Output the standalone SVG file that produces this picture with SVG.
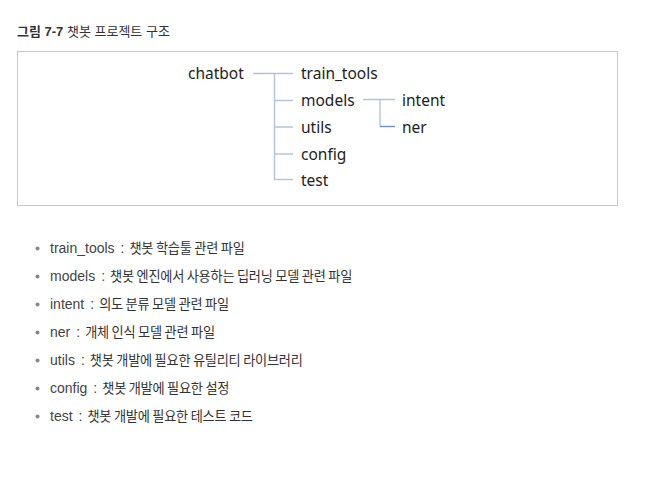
<svg xmlns="http://www.w3.org/2000/svg" width="654" height="477" viewBox="0 0 654 477">
<style>
.title{font-family:"Liberation Sans","Noto Sans CJK KR",sans-serif;font-size:13px;fill:#333}
.node{font-family:"Noto Sans","Noto Sans CJK KR",sans-serif;font-size:15.5px;fill:#222}
.ln{stroke:#b3c3df;stroke-width:1.4;fill:none}
.ln2{stroke:#6f8fc8;stroke-width:1.4;fill:none}
.item{font-family:"Liberation Sans","Noto Sans CJK KR",sans-serif;font-size:14px;fill:#444}
.ko{font-family:"Noto Sans CJK KR",sans-serif;font-size:13.2px;letter-spacing:-0.25px;fill:#333}
.dot{fill:#888}
</style>
<rect width="654" height="477" fill="#fff"/>
<text class="title" x="17" y="36"><tspan font-weight="bold">그림 7-7</tspan> 챗봇 프로젝트 구조</text>
<rect x="17.5" y="51.5" width="600" height="154" fill="none" stroke="#c8c8c8" stroke-width="1"/>
<g id="connectors">
<path class="ln" d="M253 73.5H293M274.5 73.5V179.5H293M274.5 100.5H293M274.5 127H293M274.5 154H293"/>
<path class="ln" d="M363 99.5H395M380 99.5V126.5"/>
<path class="ln2" d="M380 126.5H395"/>
</g>
<g id="chatbot"><text class="node" x="188" y="79">chatbot</text></g>
<g id="train_tools"><text class="node" x="301" y="79">train_tools</text></g>
<g id="models"><text class="node" x="301" y="106">models</text></g>
<g id="utils"><text class="node" x="301" y="133">utils</text></g>
<g id="config"><text class="node" x="301" y="160">config</text></g>
<g id="test"><text class="node" x="301" y="186">test</text></g>
<g id="intent"><text class="node" x="402" y="106">intent</text></g>
<g id="ner"><text class="node" x="402" y="133">ner</text></g>
<g id="list">
<circle class="dot" cx="37.5" cy="248.5" r="2"/><text class="item" x="50" y="253">train_tools<tspan dx="6">:</tspan><tspan class="ko" dx="5">챗봇 학습툴 관련 파일</tspan></text>
<circle class="dot" cx="37.5" cy="276.5" r="2"/><text class="item" x="50" y="281">models<tspan dx="6">:</tspan><tspan class="ko" dx="5">챗봇 엔진에서 사용하는 딥러닝 모델 관련 파일</tspan></text>
<circle class="dot" cx="37.5" cy="304.5" r="2"/><text class="item" x="50" y="309">intent<tspan dx="6">:</tspan><tspan class="ko" dx="5">의도 분류 모델 관련 파일</tspan></text>
<circle class="dot" cx="37.5" cy="332.5" r="2"/><text class="item" x="50" y="337">ner<tspan dx="6">:</tspan><tspan class="ko" dx="5">개체 인식 모델 관련 파일</tspan></text>
<circle class="dot" cx="37.5" cy="360.5" r="2"/><text class="item" x="50" y="365">utils<tspan dx="6">:</tspan><tspan class="ko" dx="5">챗봇 개발에 필요한 유틸리티 라이브러리</tspan></text>
<circle class="dot" cx="37.5" cy="388.5" r="2"/><text class="item" x="50" y="393">config<tspan dx="6">:</tspan><tspan class="ko" dx="5">챗봇 개발에 필요한 설정</tspan></text>
<circle class="dot" cx="37.5" cy="416.5" r="2"/><text class="item" x="50" y="421">test<tspan dx="6">:</tspan><tspan class="ko" dx="5">챗봇 개발에 필요한 테스트 코드</tspan></text>
</g>
</svg>
